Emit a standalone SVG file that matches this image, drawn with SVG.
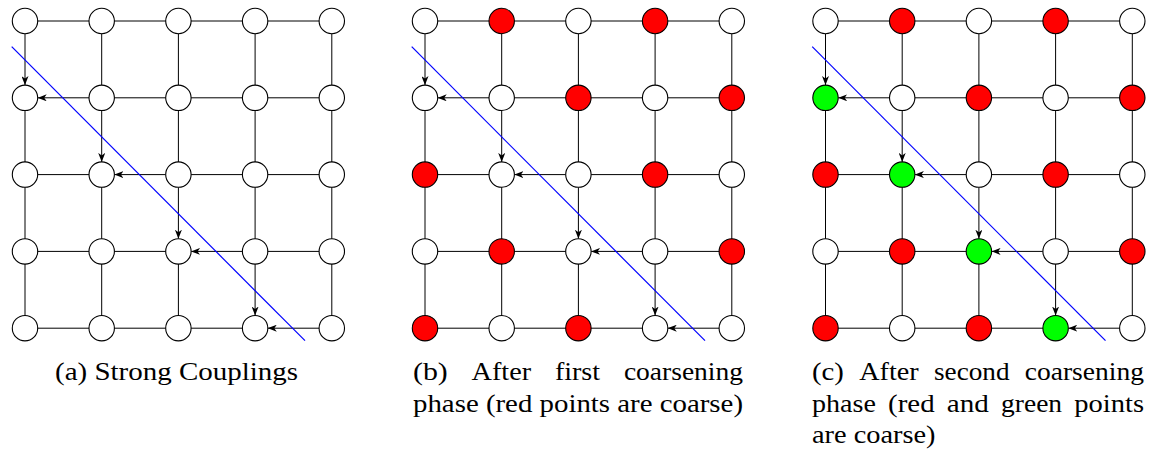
<svg xmlns="http://www.w3.org/2000/svg" xmlns:xlink="http://www.w3.org/1999/xlink" width="1162" height="452" viewBox="0 0 1162 452">
<style>
.grid{fill:none;stroke:#000;stroke-width:1}
.arr{fill:none;stroke:#000;stroke-width:1;marker-end:url(#ah)}
.cut{fill:none;stroke:#0000ff;stroke-width:1.2}
circle{stroke:#000;stroke-width:1.1}
.w{fill:#fff}
.r{fill:#ff0000}
.g{fill:#00ff00}
.cap text{font-family:"Liberation Serif","DejaVu Serif","Times New Roman",serif;font-size:26px;fill:#000}
</style>
<defs>
<marker id="ah" markerUnits="userSpaceOnUse" markerWidth="9" markerHeight="7" refX="9" refY="3.5" orient="auto">
<path d="M0,0 L9,3.5 L0,7 L2.5,3.5 z" fill="#000"/>
</marker>
<g id="panel-connectors">
<path class="grid" d="M25,21 H331.8 M101.7,97.8 H331.8 M25,174.6 H101.7 M178.4,174.6 H331.8 M25,251.4 H178.4 M255.1,251.4 H331.8 M25,328.2 H255.1 M25,97.8 V328.2 M101.7,21 V97.8 M101.7,174.6 V328.2 M178.4,21 V174.6 M178.4,251.4 V328.2 M255.1,21 V251.4 M331.8,21 V328.2"/>
<line class="arr" x1="25" y1="33.7" x2="25" y2="85.1"/>
<line class="arr" x1="101.7" y1="110.5" x2="101.7" y2="161.9"/>
<line class="arr" x1="178.4" y1="187.3" x2="178.4" y2="238.7"/>
<line class="arr" x1="255.1" y1="264.1" x2="255.1" y2="315.5"/>
<line class="arr" x1="89" y1="97.8" x2="37.7" y2="97.8"/>
<line class="arr" x1="165.7" y1="174.6" x2="114.4" y2="174.6"/>
<line class="arr" x1="242.4" y1="251.4" x2="191.1" y2="251.4"/>
<line class="arr" x1="319.1" y1="328.2" x2="267.8" y2="328.2"/>
<line class="cut" x1="11.7" y1="46.7" x2="305" y2="340.7"/>
</g>
</defs>
<g id="connectors">
<use xlink:href="#panel-connectors"/>
<use xlink:href="#panel-connectors" transform="translate(400,0)"/>
<use xlink:href="#panel-connectors" transform="translate(800.5,0)"/>
</g>
<g id="panel-a">
<g id="a-r0c0"><circle class="w" cx="25" cy="21" r="12.7"/></g>
<g id="a-r0c1"><circle class="w" cx="101.7" cy="21" r="12.7"/></g>
<g id="a-r0c2"><circle class="w" cx="178.4" cy="21" r="12.7"/></g>
<g id="a-r0c3"><circle class="w" cx="255.1" cy="21" r="12.7"/></g>
<g id="a-r0c4"><circle class="w" cx="331.8" cy="21" r="12.7"/></g>
<g id="a-r1c0"><circle class="w" cx="25" cy="97.8" r="12.7"/></g>
<g id="a-r1c1"><circle class="w" cx="101.7" cy="97.8" r="12.7"/></g>
<g id="a-r1c2"><circle class="w" cx="178.4" cy="97.8" r="12.7"/></g>
<g id="a-r1c3"><circle class="w" cx="255.1" cy="97.8" r="12.7"/></g>
<g id="a-r1c4"><circle class="w" cx="331.8" cy="97.8" r="12.7"/></g>
<g id="a-r2c0"><circle class="w" cx="25" cy="174.6" r="12.7"/></g>
<g id="a-r2c1"><circle class="w" cx="101.7" cy="174.6" r="12.7"/></g>
<g id="a-r2c2"><circle class="w" cx="178.4" cy="174.6" r="12.7"/></g>
<g id="a-r2c3"><circle class="w" cx="255.1" cy="174.6" r="12.7"/></g>
<g id="a-r2c4"><circle class="w" cx="331.8" cy="174.6" r="12.7"/></g>
<g id="a-r3c0"><circle class="w" cx="25" cy="251.4" r="12.7"/></g>
<g id="a-r3c1"><circle class="w" cx="101.7" cy="251.4" r="12.7"/></g>
<g id="a-r3c2"><circle class="w" cx="178.4" cy="251.4" r="12.7"/></g>
<g id="a-r3c3"><circle class="w" cx="255.1" cy="251.4" r="12.7"/></g>
<g id="a-r3c4"><circle class="w" cx="331.8" cy="251.4" r="12.7"/></g>
<g id="a-r4c0"><circle class="w" cx="25" cy="328.2" r="12.7"/></g>
<g id="a-r4c1"><circle class="w" cx="101.7" cy="328.2" r="12.7"/></g>
<g id="a-r4c2"><circle class="w" cx="178.4" cy="328.2" r="12.7"/></g>
<g id="a-r4c3"><circle class="w" cx="255.1" cy="328.2" r="12.7"/></g>
<g id="a-r4c4"><circle class="w" cx="331.8" cy="328.2" r="12.7"/></g>
</g>
<g id="panel-b" transform="translate(400,0)">
<g id="b-r0c0"><circle class="w" cx="25" cy="21" r="12.7"/></g>
<g id="b-r0c1"><circle class="r" cx="101.7" cy="21" r="12.7"/></g>
<g id="b-r0c2"><circle class="w" cx="178.4" cy="21" r="12.7"/></g>
<g id="b-r0c3"><circle class="r" cx="255.1" cy="21" r="12.7"/></g>
<g id="b-r0c4"><circle class="w" cx="331.8" cy="21" r="12.7"/></g>
<g id="b-r1c0"><circle class="w" cx="25" cy="97.8" r="12.7"/></g>
<g id="b-r1c1"><circle class="w" cx="101.7" cy="97.8" r="12.7"/></g>
<g id="b-r1c2"><circle class="r" cx="178.4" cy="97.8" r="12.7"/></g>
<g id="b-r1c3"><circle class="w" cx="255.1" cy="97.8" r="12.7"/></g>
<g id="b-r1c4"><circle class="r" cx="331.8" cy="97.8" r="12.7"/></g>
<g id="b-r2c0"><circle class="r" cx="25" cy="174.6" r="12.7"/></g>
<g id="b-r2c1"><circle class="w" cx="101.7" cy="174.6" r="12.7"/></g>
<g id="b-r2c2"><circle class="w" cx="178.4" cy="174.6" r="12.7"/></g>
<g id="b-r2c3"><circle class="r" cx="255.1" cy="174.6" r="12.7"/></g>
<g id="b-r2c4"><circle class="w" cx="331.8" cy="174.6" r="12.7"/></g>
<g id="b-r3c0"><circle class="w" cx="25" cy="251.4" r="12.7"/></g>
<g id="b-r3c1"><circle class="r" cx="101.7" cy="251.4" r="12.7"/></g>
<g id="b-r3c2"><circle class="w" cx="178.4" cy="251.4" r="12.7"/></g>
<g id="b-r3c3"><circle class="w" cx="255.1" cy="251.4" r="12.7"/></g>
<g id="b-r3c4"><circle class="r" cx="331.8" cy="251.4" r="12.7"/></g>
<g id="b-r4c0"><circle class="r" cx="25" cy="328.2" r="12.7"/></g>
<g id="b-r4c1"><circle class="w" cx="101.7" cy="328.2" r="12.7"/></g>
<g id="b-r4c2"><circle class="r" cx="178.4" cy="328.2" r="12.7"/></g>
<g id="b-r4c3"><circle class="w" cx="255.1" cy="328.2" r="12.7"/></g>
<g id="b-r4c4"><circle class="w" cx="331.8" cy="328.2" r="12.7"/></g>
</g>
<g id="panel-c" transform="translate(800.5,0)">
<g id="c-r0c0"><circle class="w" cx="25" cy="21" r="12.7"/></g>
<g id="c-r0c1"><circle class="r" cx="101.7" cy="21" r="12.7"/></g>
<g id="c-r0c2"><circle class="w" cx="178.4" cy="21" r="12.7"/></g>
<g id="c-r0c3"><circle class="r" cx="255.1" cy="21" r="12.7"/></g>
<g id="c-r0c4"><circle class="w" cx="331.8" cy="21" r="12.7"/></g>
<g id="c-r1c0"><circle class="g" cx="25" cy="97.8" r="12.7"/></g>
<g id="c-r1c1"><circle class="w" cx="101.7" cy="97.8" r="12.7"/></g>
<g id="c-r1c2"><circle class="r" cx="178.4" cy="97.8" r="12.7"/></g>
<g id="c-r1c3"><circle class="w" cx="255.1" cy="97.8" r="12.7"/></g>
<g id="c-r1c4"><circle class="r" cx="331.8" cy="97.8" r="12.7"/></g>
<g id="c-r2c0"><circle class="r" cx="25" cy="174.6" r="12.7"/></g>
<g id="c-r2c1"><circle class="g" cx="101.7" cy="174.6" r="12.7"/></g>
<g id="c-r2c2"><circle class="w" cx="178.4" cy="174.6" r="12.7"/></g>
<g id="c-r2c3"><circle class="r" cx="255.1" cy="174.6" r="12.7"/></g>
<g id="c-r2c4"><circle class="w" cx="331.8" cy="174.6" r="12.7"/></g>
<g id="c-r3c0"><circle class="w" cx="25" cy="251.4" r="12.7"/></g>
<g id="c-r3c1"><circle class="r" cx="101.7" cy="251.4" r="12.7"/></g>
<g id="c-r3c2"><circle class="g" cx="178.4" cy="251.4" r="12.7"/></g>
<g id="c-r3c3"><circle class="w" cx="255.1" cy="251.4" r="12.7"/></g>
<g id="c-r3c4"><circle class="r" cx="331.8" cy="251.4" r="12.7"/></g>
<g id="c-r4c0"><circle class="r" cx="25" cy="328.2" r="12.7"/></g>
<g id="c-r4c1"><circle class="w" cx="101.7" cy="328.2" r="12.7"/></g>
<g id="c-r4c2"><circle class="r" cx="178.4" cy="328.2" r="12.7"/></g>
<g id="c-r4c3"><circle class="g" cx="255.1" cy="328.2" r="12.7"/></g>
<g id="c-r4c4"><circle class="w" cx="331.8" cy="328.2" r="12.7"/></g>
</g>
<g id="captions" class="cap">
<text x="55" y="380" textLength="243" lengthAdjust="spacingAndGlyphs">(a) Strong Couplings</text>
<text x="413" y="380" textLength="34.8" lengthAdjust="spacingAndGlyphs">(b)</text>
<text x="471.6" y="380" textLength="59.5" lengthAdjust="spacingAndGlyphs">After</text>
<text x="554.9" y="380" textLength="45.2" lengthAdjust="spacingAndGlyphs">first</text>
<text x="623.9" y="380" textLength="119.1" lengthAdjust="spacingAndGlyphs">coarsening</text>
<text x="413" y="412" textLength="330" lengthAdjust="spacingAndGlyphs">phase (red points are coarse)</text>
<text x="812" y="380" textLength="31.9" lengthAdjust="spacingAndGlyphs">(c)</text>
<text x="859.2" y="380" textLength="59.5" lengthAdjust="spacingAndGlyphs">After</text>
<text x="934" y="380" textLength="75.5" lengthAdjust="spacingAndGlyphs">second</text>
<text x="1024.8" y="380" textLength="119.1" lengthAdjust="spacingAndGlyphs">coarsening</text>
<text x="812" y="412" textLength="63.9" lengthAdjust="spacingAndGlyphs">phase</text>
<text x="888.1" y="412" textLength="46.5" lengthAdjust="spacingAndGlyphs">(red</text>
<text x="946.8" y="412" textLength="42.1" lengthAdjust="spacingAndGlyphs">and</text>
<text x="1001.1" y="412" textLength="61" lengthAdjust="spacingAndGlyphs">green</text>
<text x="1074.3" y="412" textLength="69.8" lengthAdjust="spacingAndGlyphs">points</text>
<text x="812" y="443" textLength="123.5" lengthAdjust="spacingAndGlyphs">are coarse)</text>
</g>
</svg>
